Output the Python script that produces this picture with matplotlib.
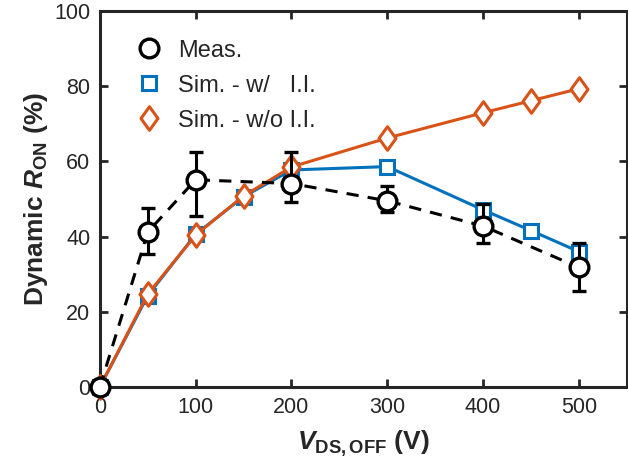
import numpy as np
import matplotlib
matplotlib.use("Agg")
import matplotlib.pyplot as plt
from matplotlib.path import Path
from matplotlib.lines import Line2D

plt.rcParams['font.family'] = ['Liberation Sans', 'DejaVu Sans']
plt.rcParams['mathtext.fontset'] = 'custom'
plt.rcParams['mathtext.rm'] = 'Liberation Sans'
plt.rcParams['mathtext.bf'] = 'Liberation Sans:bold'
plt.rcParams['mathtext.it'] = 'Liberation Sans:italic'
plt.rcParams['mathtext.bfit'] = 'Liberation Sans:bold:italic'

# measured dynamic Ron with asymmetric error bars
v_meas = [0, 50, 100, 200, 300, 400, 500]
r_meas = [0, 41.2, 55.1, 54.1, 49.5, 42.8, 31.8]
err_up = [0, 6.4, 7.4, 8.5, 4.0, 5.9, 6.5]
err_dn = [0, 5.8, 9.6, 4.9, 3.0, 4.5, 6.2]

# simulations
v_sim = [0, 50, 100, 150, 200, 300, 400, 450, 500]
r_sim_ii = [0, 24.3, 40.6, 50.6, 57.7, 58.6, 47.1, 41.6, 36.0]
r_sim_noii = [0, 24.7, 40.4, 50.8, 58.5, 66.2, 72.9, 76.1, 79.3]

blue = '#0072BD'
orange = '#D95319'
dark = '#262626'

diamond = Path([(0, 1), (0.72, 0), (0, -1), (-0.72, 0), (0, 1)],
               [Path.MOVETO, Path.LINETO, Path.LINETO, Path.LINETO, Path.CLOSEPOLY])

fig = plt.figure(figsize=(6.28, 4.72), dpi=100)
ax = fig.add_axes([0.159, 0.18, 0.839, 0.797])

sq_style = dict(marker='s', ms=10.5, mfc='white', mec=blue, mew=2.2)
dm_style = dict(marker=diamond, ms=17, mfc='white', mec=orange, mew=2.2)
ci_style = dict(marker='o', ms=13.5, mfc='white', mec='black', mew=2.4)

ax.plot(v_sim, r_sim_ii, '-', color=blue, lw=2.2, clip_on=False, zorder=3, **sq_style)
ax.plot(v_sim, r_sim_noii, '-', color=orange, lw=2.2, clip_on=False, zorder=4, **dm_style)
ax.errorbar(v_meas, r_meas, yerr=[err_dn, err_up], fmt='none', ecolor='black',
            elinewidth=2.2, capsize=5, capthick=2.4, zorder=5)
ax.plot(v_meas, r_meas, color='black', lw=2.2, dashes=(4, 3), zorder=5)
ax.plot(v_meas, r_meas, ls='none', clip_on=False, zorder=6, **ci_style)

ax.set_xlim(0, 550)
ax.set_ylim(0, 100)
ax.set_xticks(np.arange(0, 501, 100))
ax.set_yticks(np.arange(0, 101, 20))
ax.tick_params(direction='in', length=6, width=2, colors=dark, labelsize=15.5,
               top=True, right=True, pad=7)
for s in ax.spines.values():
    s.set_linewidth(2.2)
    s.set_color(dark)

ax.set_xlabel(r'$\mathbfit{V}_{\mathbf{DS,OFF}}$ (V)', fontsize=19, fontweight='bold',
              color=dark, labelpad=8)
ax.set_ylabel(r'Dynamic $\mathbfit{R}_{\mathbf{ON}}$ (%)', fontsize=19, fontweight='bold',
              color=dark, labelpad=3)

# legend shows markers only
handles = [Line2D([], [], ls='none', **ci_style),
           Line2D([], [], ls='none', **sq_style),
           Line2D([], [], ls='none', **dm_style)]
ax.legend(handles, ['Meas.', 'Sim. - w/   I.I.', 'Sim. - w/o I.I.'],
          loc='upper left', bbox_to_anchor=(0.03, 0.98), frameon=False,
          fontsize=17, handlelength=1.0, handletextpad=0.75, labelspacing=0.55,
          labelcolor=dark)

fig.savefig('out.png', dpi=100)
